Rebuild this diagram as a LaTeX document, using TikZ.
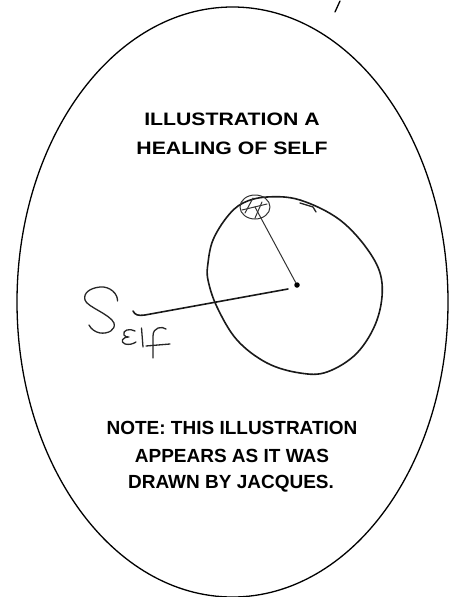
\documentclass[tikz,border=0pt]{standalone}
\usepackage{fontspec}
\setmainfont{Liberation Sans}
\usetikzlibrary{shapes.geometric}
\begin{document}
\begin{tikzpicture}[x=1pt,y=-1pt,
  label/.style={font=\fontsize{19}{22}\selectfont\bfseries, align=center, inner sep=0pt},
  title/.style={font=\fontsize{18}{21}\selectfont\bfseries, align=center, inner sep=0pt},
  hand/.style={line width=1.6pt, line cap=round, line join=round, black!90},
  mid hand/.style={line width=1.3pt, line cap=round, line join=round, black!85},
  thin hand/.style={line width=1pt, line cap=round, line join=round, black!80}]
\useasboundingbox (0,0) rectangle (449,597);
% big oval
\draw[line width=1.3pt] (232.5,302) ellipse [x radius=215.5, y radius=295];
% tick at top right
\draw[line width=1.3pt, line cap=round] (340,1) -- (335,12);
% titles
\node[title] (t1) at (232,119) {\scalebox{1.18}[1]{ILLUSTRATION A}};
\node[title] (t2) at (232,148) {\scalebox{1.18}[1]{HEALING OF SELF}};
\node[label] (n1) at (232,428) {NOTE: THIS ILLUSTRATION};
\node[label] (n2) at (232,456) {APPEARS AS IT WAS};
\node[label] (n3) at (231,484) {DRAWN BY JACQUES.};
% hand-drawn circle
\draw[hand] plot[smooth cycle, tension=0.6] coordinates {
 (208,263) (213,240) (227,217) (243,203) (267,197) (300,200) (340,220)
 (370,253) (382,283) (377,320) (357,353) (327,372) (300,373) (267,363)
 (237,340) (217,307) (208,280)};
% tick on circle
\draw[mid hand] (300,203) -- (313,207) -- (316,212);
% small circle
\node[draw, thin hand, ellipse, minimum width=30pt, minimum height=24pt, inner sep=0pt] (sc) at (255,207) {};
\draw[thin hand] (242,210) -- (267,204);
\draw[thin hand] (253,198) -- (245,213);
\draw[thin hand] (262,202) -- (255,218);
% center dot
\node[circle, fill=black, minimum size=5.5pt, inner sep=0pt] (dot) at (297,285) {};
\draw[thin hand] (sc.center) -- (dot);
% Self line
\coordinate (lend) at (288,289);
\draw[hand] (133,311) .. controls (135,315) and (138,316) .. (145,315) -- (lend);
% Self handwriting
\draw[mid hand] (117.5,301) .. controls (118,294) and (110,286) .. (100,287)
  .. controls (90,288) and (83,293) .. (85,300)
  .. controls (87,307) and (110,314) .. (114,323)
  .. controls (116,330) and (108,334) .. (100,333)
  .. controls (95,332) and (91,329) .. (89,325);
\draw[mid hand] (135,331) .. controls (130,328) and (122,330) .. (124,335)
  .. controls (125,337) and (127,337) .. (129,337)
  .. controls (122,337) and (120,342) .. (125,344)
  .. controls (129,345) and (133,344) .. (136,342);
\draw[mid hand] (141.5,328) -- (143,347);
\draw[mid hand] (166,329) .. controls (162,326) and (153,327) .. (153,336) -- (153,358);
\draw[mid hand] (146,346) -- (170,344);
\end{tikzpicture}
\end{document}
